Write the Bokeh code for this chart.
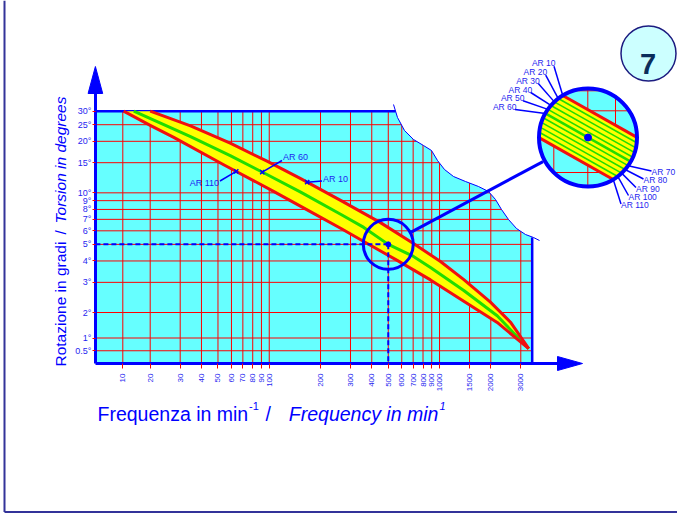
import numpy as np
from bokeh.plotting import figure
from bokeh.models import Range1d, LinearAxis, FixedTicker
from bokeh.core.properties import value
from bokeh.embed import file_html
from bokeh.resources import INLINE

# ---------------- data ----------------
freq_ticks = [10, 20, 30, 40, 50, 60, 70, 80, 90, 100, 200, 300, 400, 500,
              600, 700, 800, 900, 1000, 1500, 2000, 3000]
freq_tick_labels = [str(f) for f in freq_ticks]
deg_ticks = [0.5, 1, 2, 3, 4, 5, 6, 7, 8, 9, 10, 15, 20, 25, 30]
deg_tick_labels = ["0.5°", "1°", "2°", "3°", "4°", "5°", "6°", "7°", "8°", "9°",
                   "10°", "15°", "20°", "25°", "30°"]
freq_max = 3500
deg_max = 30

# AR 10 : upper (right) limit of the band
ar10_freq = [20, 34.5, 59, 97, 153, 264, 450, 703, 1013, 1383, 1990, 2610, 3340]
ar10_deg = [30, 24.6, 19.5, 15.3, 12.1, 9.0, 6.7, 5.06, 3.97, 3.12, 2.30, 1.62, 0.58]
# AR 60 : middle of the band
ar60_freq = [14, 34.5, 59, 97, 153, 264, 359, 500, 703, 885, 1388, 2180, 3340]
ar60_deg = [30, 21.3, 16.5, 12.8, 10.1, 7.47, 6.28, 5.0, 4.25, 3.66, 2.69, 1.87, 0.58]
# AR 110 : lower (left) limit of the band
ar110_freq = [10.3, 20, 27.5, 54, 106, 165, 264, 359, 564, 885, 1388, 2180, 3340]
ar110_deg = [30, 24.8, 21.1, 14.6, 10.2, 8.0, 6.19, 5.2, 4.03, 3.10, 2.33, 1.61, 0.58]

example_freq = 500
example_deg = 5

inset_labels_left = ["AR 10", "AR 20", "AR 30", "AR 40", "AR 50", "AR 60"]
inset_labels_right = ["AR 70", "AR 80", "AR 90", "AR 100", "AR 110"]
badge_text = "7"

# ---------------- colours ----------------
BLUE = "#0000ff"
TBLUE = "#1f1ff0"
RED = "#ff0000"
CRED = "#f01010"
CYAN = "#66ffff"
YELLOW = "#ffff00"
GREEN = "#22dd00"
FONT = "Liberation Sans"

# ---------------- nomogram scale: linear near the origin, logarithmic above ----
LIN_X = 20.0
LIN_Y = 2.0
KX = 0.3218 / LIN_X
KY = 0.2979 / LIN_Y


def fx(v):
    v = np.asarray(v, dtype=float)
    return np.where(v >= LIN_X, np.log10(np.maximum(v, LIN_X)),
                    np.log10(LIN_X) - (LIN_X - v) * KX)


def fy(v):
    v = np.asarray(v, dtype=float)
    return np.where(v >= LIN_Y, np.log10(np.maximum(v, LIN_Y)),
                    np.log10(LIN_Y) - (LIN_Y - v) * KY)


# ---------------- page layout ----------------
W, H = 677, 513
PPD_X, PPD_Y = 170.3, 171.2
X20_PX, Y2_PX = 149.7, 312.0


def X(px):
    return np.log10(LIN_X) + (np.asarray(px, dtype=float) - X20_PX) / PPD_X


def Y(py):
    return np.log10(LIN_Y) + (Y2_PX - np.asarray(py, dtype=float)) / PPD_Y


def PX(u):
    return X20_PX + (np.asarray(u, dtype=float) - np.log10(LIN_X)) * PPD_X


def PY(u):
    return Y2_PX - (np.asarray(u, dtype=float) - np.log10(LIN_Y)) * PPD_Y


p = figure(width=W, height=H,
           x_range=Range1d(float(X(0)), float(X(W))),
           y_range=Range1d(float(Y(H)), float(Y(0))),
           output_backend="svg", toolbar_location=None,
           x_axis_type=None, y_axis_type=None, min_border=0)
p.outline_line_color = None
p.background_fill_color = "white"
p.border_fill_color = "white"

x0, x1 = float(fx(0)), float(fx(freq_max))
y0, y1 = float(fy(0)), float(fy(deg_max))

# plot area
p.quad(left=[x0], right=[x1], bottom=[y0], top=[y1], fill_color=CYAN, line_color=None)

# grid
gx = fx(freq_ticks)
p.segment(x0=gx, y0=np.full(len(gx), y0), x1=gx, y1=np.full(len(gx), y1),
          line_color=RED, line_width=1)
gy = fy(deg_ticks)
p.segment(x0=np.full(len(gy), x0), y0=gy, x1=np.full(len(gy), x1), y1=gy,
          line_color=RED, line_width=1)

# torn-paper cut in the top right corner
wave_px = [(393, 104), (397, 117), (404, 130), (413, 139), (423, 145), (431, 150),
           (437, 160), (444, 169), (453, 176), (465, 181), (478, 186), (488, 191),
           (495, 199), (501, 209), (508, 219), (516, 228), (525, 234), (533, 237),
           (539, 240)]
wx = [a for a, b in wave_px]
wy = [b for a, b in wave_px]
cut_x = wx + [548, 548, 390]
cut_y = wy + [242, 100, 100]
p.patch(X(cut_x), Y(cut_y), fill_color="white", line_color=None)
p.line(X(wx), Y(wy), line_color=BLUE, line_width=1)

# plot borders
p.line([x0, float(X(395))], [y1, y1], line_color=BLUE, line_width=2.5)
p.line([x1, x1], [y0, float(Y(237))], line_color=BLUE, line_width=2.5)

# band
band_x = np.concatenate([fx(ar110_freq), fx(ar10_freq)[::-1]])
band_y = np.concatenate([fy(ar110_deg), fy(ar10_deg)[::-1]])
p.patch(band_x, band_y, fill_color=YELLOW, line_color=None)
p.line(fx(ar60_freq), fy(ar60_deg), line_color=GREEN, line_width=3, line_join="round")
p.line(fx(ar10_freq), fy(ar10_deg), line_color=CRED, line_width=3, line_join="round")
p.line(fx(ar110_freq), fy(ar110_deg), line_color=CRED, line_width=3, line_join="round")

# example reading
ex, ey = float(fx(example_freq)), float(fy(example_deg))
p.line([x0, ex], [ey, ey], line_color=BLUE, line_width=2, line_dash="5 3")
p.line([ex, ex], [ey, y0], line_color=BLUE, line_width=2, line_dash="5 3")
p.scatter([ex], [ey], size=5, marker="circle", fill_color=BLUE, line_color=BLUE)
p.scatter([ex], [ey], size=50, marker="circle", fill_color=None,
          line_color=BLUE, line_width=3)

# ---------------- magnifier inset ----------------
C = np.array([587.5, 137.0])
R = 49.0
ang = np.deg2rad(29.4)
d = np.array([np.cos(ang), np.sin(ang)])
nrm = np.array([-np.sin(ang), np.cos(ang)])
HALF = 24.2
offs = np.linspace(-HALF, HALF, 11)

S = np.array([float(PX(ex)), float(PY(ey))])
u = (C - S) / np.linalg.norm(C - S)
a = S + 26 * u
b = C - 51 * u
p.line(X([a[0], b[0]]), Y([a[1], b[1]]), line_color=BLUE, line_width=3)

p.scatter([float(X(C[0]))], [float(Y(C[1]))], size=2 * R, marker="circle",
          fill_color=CYAN, line_color=None)

# inset grid (chords)
for gxp in [553.3, 587.3, 615.0]:
    h = np.sqrt(R ** 2 - (gxp - C[0]) ** 2)
    p.line(X([gxp, gxp]), Y([C[1] - h, C[1] + h]), line_color=RED, line_width=1)
for gyp in [90.3, 110.3, 137.0, 172.0]:
    h = np.sqrt(R ** 2 - (gyp - C[1]) ** 2)
    p.line(X([C[0] - h, C[0] + h]), Y([gyp, gyp]), line_color=RED, line_width=1)


def clip(poly, nv, c):
    out = []
    for i in range(len(poly)):
        P, Q = poly[i], poly[(i + 1) % len(poly)]
        dp = np.dot(P - C, nv) - c
        dq = np.dot(Q - C, nv) - c
        if dp <= 0:
            out.append(P)
        if dp * dq < 0:
            t = dp / (dp - dq)
            out.append(P + t * (Q - P))
    return out


t = np.linspace(0, 2 * np.pi, 240, endpoint=False)
circ = [C + R * np.array([np.cos(tt), np.sin(tt)]) for tt in t]
strip = clip(clip(circ, nrm, HALF), -nrm, HALF)
sx = [q[0] for q in strip]
sy = [q[1] for q in strip]
p.patch(X(sx), Y(sy), fill_color=YELLOW, line_color=None)

ends_left, ends_right = [], []
for k, o in enumerate(offs):
    h = np.sqrt(R ** 2 - o ** 2)
    m = C + o * nrm
    e1, e2 = m - h * d, m + h * d
    ends_left.append(e1)
    ends_right.append(e2)
    if k in (0, 10):
        col, lw = CRED, 3
    elif k == 5:
        col, lw = GREEN, 2.5
    else:
        col, lw = GREEN, 1.6
    p.line(X([e1[0], e2[0]]), Y([e1[1], e2[1]]), line_color=col, line_width=lw)

p.scatter([float(X(C[0]))], [float(Y(C[1]))], size=7, marker="circle",
          fill_color=BLUE, line_color=BLUE)
p.scatter([float(X(C[0]))], [float(Y(C[1]))], size=2 * R, marker="circle",
          fill_color=None, line_color=BLUE, line_width=4)

# inset leaders + labels
left_rx = [555, 546.7, 539.3, 531.7, 524, 516]
left_y = [62.7, 71.7, 80, 89, 97.3, 106]
for i in range(len(inset_labels_left)):
    e = ends_left[i]
    p.line(X([left_rx[i] - 1.5, e[0]]), Y([left_y[i] + 3, e[1]]),
           line_color=BLUE, line_width=1.5)
p.text(X(left_rx), Y(left_y), text=inset_labels_left, text_align="right",
       text_baseline="middle", text_font=value(FONT), text_font_size="8.5px",
       text_color=TBLUE)

right_lx = [651.0, 643.0, 635.5, 628.0, 620.5]
right_y = [171.5, 179.5, 188.0, 196.0, 204.5]
for i in range(len(inset_labels_right)):
    e = ends_right[6 + i]
    p.line(X([e[0], right_lx[i]]), Y([e[1], right_y[i] - 1]),
           line_color=BLUE, line_width=1.5)
p.text(X(right_lx), Y(right_y), text=inset_labels_right, text_align="left",
       text_baseline="middle", text_font=value(FONT), text_font_size="8.5px",
       text_color=TBLUE)


# ---------------- curve labels in the main chart ----------------
def on_curve(freq, cf, cd):
    uu = float(fx(freq))
    return uu, float(np.interp(uu, fx(cf), fy(cd)))


ann = [("AR 110", 64, ar110_freq, ar110_deg, (219.5, 180.5), (218.5, 182), "right"),
       ("AR 60", 91, ar60_freq, ar60_deg, (281.5, 160), (282.5, 156), "left"),
       ("AR 10", 167, ar10_freq, ar10_deg, (321.5, 180.5), (322.5, 178), "left")]
for lab, f, cf, cd, st, pos, al in ann:
    cx, cy = on_curve(f, cf, cd)
    p.line([float(X(st[0])), cx], [float(Y(st[1])), cy], line_color=BLUE, line_width=1.5)
    p.scatter([cx], [cy], marker="x", size=6, line_color=BLUE, line_width=1.5)
    p.text([float(X(pos[0]))], [float(Y(pos[1]))], text=[lab], text_align=al,
           text_baseline="middle", text_font=value(FONT), text_font_size="9px",
           text_color=TBLUE)

# ---------------- axes ----------------
yt = [float(v) for v in fy(deg_ticks)]
yax = LinearAxis(fixed_location=x0, bounds=(y0, float(Y(93))),
                 ticker=FixedTicker(ticks=yt),
                 major_label_overrides={k: v for k, v in zip(yt, deg_tick_labels)},
                 axis_line_color=BLUE, axis_line_width=3,
                 major_tick_line_color=RED, major_tick_in=0, major_tick_out=3,
                 minor_tick_line_color=None, major_label_standoff=1,
                 major_label_text_font=FONT, major_label_text_font_size="9px",
                 major_label_text_color=TBLUE)
p.add_layout(yax, "left")

xt = [float(v) for v in fx(freq_ticks)]
xax = LinearAxis(fixed_location=y0, bounds=(x0, float(X(557))),
                 ticker=FixedTicker(ticks=xt),
                 major_label_overrides={k: v for k, v in zip(xt, freq_tick_labels)},
                 major_label_orientation=np.pi / 2,
                 axis_line_color=BLUE, axis_line_width=3,
                 major_tick_line_color=RED, major_tick_in=0, major_tick_out=5,
                 minor_tick_line_color=None, major_label_standoff=5,
                 major_label_text_font=FONT, major_label_text_font_size="8px",
                 major_label_text_color=TBLUE)
p.add_layout(xax, "below")

# arrow heads
hw = float(X(104) - X(96.7))
p.patch([x0 - hw, x0, x0 + hw],
        [float(Y(93)), float(Y(66)), float(Y(93))], fill_color=BLUE, line_color=BLUE)
hh = float(Y(356) - Y(363))
p.patch([float(X(557)), float(X(582)), float(X(557))],
        [y0 + hh, y0, y0 - hh], fill_color=BLUE, line_color=BLUE)

# ---------------- axis titles ----------------
p.text([float(X(60))], [float(Y(366))], text=["Rotazione in gradi"], angle=np.pi / 2,
       text_align="left", text_baseline="middle", text_font=value(FONT),
       text_font_size="15.5px", text_color=BLUE)
p.text([float(X(60))], [float(Y(234))], text=["/"], angle=np.pi / 2,
       text_align="left", text_baseline="middle", text_font=value(FONT),
       text_font_size="15.5px", text_color=BLUE)
p.text([float(X(60))], [float(Y(223))], text=["Torsion in degrees"], angle=np.pi / 2,
       text_align="left", text_baseline="middle", text_font=value(FONT),
       text_font_style="italic", text_font_size="15.5px", text_color=BLUE)

p.text([float(X(97))], [float(Y(413))], text=["Frequenza in min"], text_align="left",
       text_baseline="alphabetic", text_font=value(FONT), text_font_size="19.5px",
       text_color=BLUE)
p.text([float(X(248.5))], [float(Y(405))], text=["-1"], text_align="left",
       text_baseline="alphabetic", text_font=value(FONT), text_font_size="11px",
       text_color=BLUE)
p.text([float(X(265))], [float(Y(413))], text=["/"], text_align="left",
       text_baseline="alphabetic", text_font=value(FONT), text_font_size="19.5px",
       text_color=BLUE)
p.text([float(X(288.3))], [float(Y(413))], text=["Frequency in min"], text_align="left",
       text_baseline="alphabetic", text_font=value(FONT), text_font_style="italic",
       text_font_size="19.5px", text_color=BLUE)
p.text([float(X(439))], [float(Y(405))], text=["1"], text_align="left",
       text_baseline="alphabetic", text_font=value(FONT), text_font_style="italic",
       text_font_size="11px", text_color=BLUE)

# ---------------- badge ----------------
p.scatter([float(X(648))], [float(Y(53))], size=55, marker="circle",
          fill_color="#ccffff", line_color="#1c1c80", line_width=1.5)
p.text([float(X(647.5))], [float(Y(63.5))], text=[badge_text], text_align="center",
       text_baseline="alphabetic", text_font=value(FONT), text_font_style="bold",
       text_font_size="29px", text_color="#0b2d5b")

# ---------------- frame ----------------
p.line([float(X(4)), float(X(4))], [float(Y(0)), float(Y(511.5))],
       line_color="#333399", line_width=2)
p.line([float(X(4)), float(X(677))], [float(Y(511.5)), float(Y(511.5))],
       line_color="#333399", line_width=2)

open("out.html", "w").write(file_html(p, INLINE))
